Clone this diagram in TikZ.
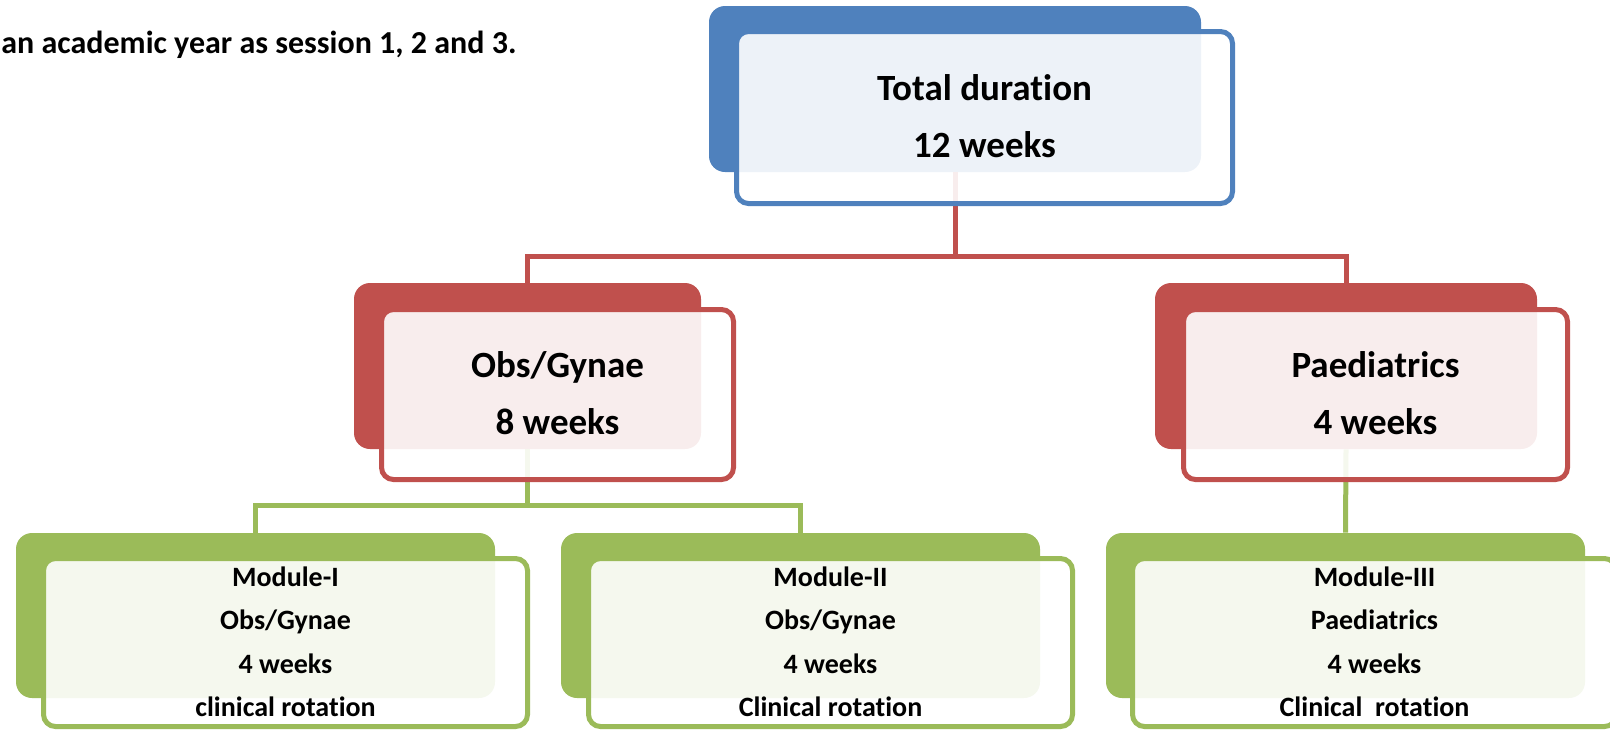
\documentclass[tikz,border=0pt]{standalone}
\usepackage{fontspec}
\setmainfont{Carlito}[Ligatures=NoCommon]
\definecolor{accBlue}{HTML}{4F81BD}
\definecolor{accRed}{HTML}{C0504D}
\definecolor{accGreen}{HTML}{9BBB59}
% first line carries a cap-height strut, all lines are smashed so the
% block is centred on cap height rather than on ascenders/descenders
\newcommand{\firstline}[1]{\rule{0pt}{0.64em}\smash{#1}}
\newcommand{\nextline}[1]{\smash{#1}}
\tikzset{
  backbox/.style={fill=#1, rounded corners=8pt, inner sep=0pt, draw=none},
  frontbox/.style={draw=#1, line width=2.5pt, fill=white, fill opacity=0.9,
    text opacity=1, rounded corners=6pt, inner sep=0pt, align=center},
  bigtext/.style={font=\fontsize{18.5pt}{28.5pt}\selectfont\bfseries},
  smalltext/.style={font=\fontsize{14pt}{21.75pt}\selectfont\bfseries},
  link/.style={draw=#1, line width=2.5pt},
}
\begin{document}
\begin{tikzpicture}[x=0.5pt, y=-0.5pt]
\useasboundingbox (0,0) rectangle (1610,729);
\clip (0,0) rectangle (1610,729);

% intro line
\node[anchor=base west, inner sep=0pt,
      font=\fontsize{16pt}{19pt}\selectfont\bfseries] (intro) at (1,53)
  {an academic year as session 1, 2 and 3.};

% solid back panels
\node[backbox=accBlue,  minimum width=246pt,   minimum height=83pt]   (topB)  at (955,89) {};
\node[backbox=accRed,   minimum width=173.5pt, minimum height=83pt]   (obsB)  at (527.5,366) {};
\node[backbox=accRed,   minimum width=191pt,   minimum height=83pt]   (paedB) at (1346,366) {};
\node[backbox=accGreen, minimum width=239.5pt, minimum height=82.5pt] (m1B)   at (255.5,615.5) {};
\node[backbox=accGreen, minimum width=239.5pt, minimum height=82.5pt] (m2B)   at (800.5,615.5) {};
\node[backbox=accGreen, minimum width=239.5pt, minimum height=82.5pt] (m3B)   at (1345.5,615.5) {};

% connectors
\coordinate (rbar) at (955,256);
\coordinate (gbar) at (528,505);
\draw[link=accRed] (topB.south) -- (rbar);
\draw[link=accRed] (obsB.north) -- (obsB.north |- rbar) -- (paedB.north |- rbar) -- (paedB.north);
\draw[link=accGreen] (obsB.south) -- (obsB.south |- gbar);
\draw[link=accGreen] (m1B.north) -- (m1B.north |- gbar) -- (m2B.north |- gbar) -- (m2B.north);
\draw[link=accGreen] (paedB.south) -- (m3B.north);

% outlined front panels with the text
\node[frontbox=accBlue, bigtext, minimum width=248pt, minimum height=86pt] (top) at (984.5,117.5)
  {\firstline{Total duration}\\\nextline{12 weeks}};
\node[frontbox=accRed, bigtext, minimum width=176pt, minimum height=85pt] (obs) at (557.5,394.5)
  {\firstline{Obs/Gynae}\\\nextline{8 weeks}};
\node[frontbox=accRed, bigtext, minimum width=192pt, minimum height=85pt] (paed) at (1375.5,394.5)
  {\firstline{Paediatrics}\\\nextline{4 weeks}};
\node[frontbox=accGreen, smalltext, minimum width=242pt, minimum height=84pt] (m1) at (285.5,642.5)
  {\firstline{Module-I}\\\nextline{Obs/Gynae}\\\nextline{4 weeks}\\\nextline{clinical rotation}};
\node[frontbox=accGreen, smalltext, minimum width=242pt, minimum height=84pt] (m2) at (830.5,642.5)
  {\firstline{Module-II}\\\nextline{Obs/Gynae}\\\nextline{4 weeks}\\\nextline{Clinical rotation}};
\node[frontbox=accGreen, smalltext, minimum width=242pt, minimum height=84pt] (m3) at (1374.5,642.5)
  {\firstline{Module-III}\\\nextline{Paediatrics}\\\nextline{4 weeks}\\\nextline{Clinical\ \ rotation}};
\end{tikzpicture}
\end{document}
